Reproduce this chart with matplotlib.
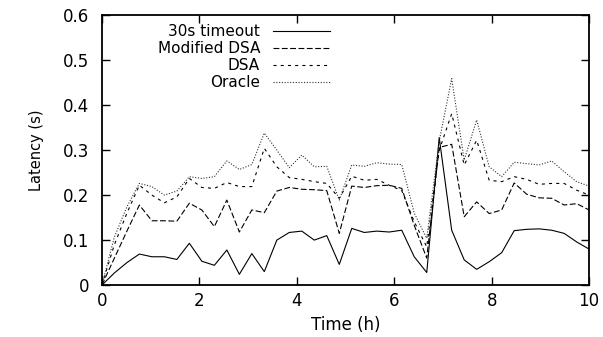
import numpy as np
import matplotlib
matplotlib.use("Agg")
import matplotlib.pyplot as plt

plt.rcParams['font.family'] = ['DejaVu Sans']
plt.rcParams['lines.scale_dashes'] = False

time_h = [0.000, 0.256, 0.513, 0.769, 1.026, 1.282, 1.538, 1.795, 2.051, 2.308,
          2.564, 2.821, 3.077, 3.333, 3.590, 3.846, 4.103, 4.359, 4.615, 4.872,
          5.128, 5.385, 5.641, 5.897, 6.154, 6.410, 6.667, 6.923, 7.179, 7.436,
          7.692, 7.949, 8.205, 8.462, 8.718, 8.974, 9.231, 9.487, 9.744, 10.000]

timeout_30s = [0.000, 0.027, 0.050, 0.069, 0.063, 0.063, 0.057, 0.093, 0.053, 0.044,
               0.078, 0.024, 0.070, 0.030, 0.100, 0.117, 0.120, 0.100, 0.110, 0.046,
               0.126, 0.117, 0.120, 0.118, 0.122, 0.063, 0.028, 0.328, 0.122, 0.056,
               0.035, 0.052, 0.072, 0.121, 0.124, 0.125, 0.122, 0.115, 0.096, 0.080]

modified_dsa = [0.000, 0.060, 0.120, 0.178, 0.143, 0.143, 0.142, 0.182, 0.167, 0.130,
                0.189, 0.118, 0.167, 0.161, 0.209, 0.217, 0.213, 0.212, 0.210, 0.115,
                0.220, 0.217, 0.221, 0.222, 0.215, 0.133, 0.060, 0.306, 0.313, 0.152,
                0.185, 0.159, 0.167, 0.227, 0.202, 0.194, 0.193, 0.178, 0.181, 0.167]

dsa = [0.000, 0.090, 0.160, 0.222, 0.200, 0.183, 0.196, 0.237, 0.217, 0.215,
       0.228, 0.219, 0.219, 0.304, 0.263, 0.239, 0.235, 0.230, 0.226, 0.193,
       0.242, 0.233, 0.235, 0.222, 0.210, 0.141, 0.085, 0.300, 0.381, 0.267,
       0.322, 0.233, 0.230, 0.241, 0.235, 0.224, 0.226, 0.226, 0.211, 0.200]

oracle = [0.000, 0.107, 0.174, 0.226, 0.219, 0.200, 0.209, 0.241, 0.237, 0.241,
          0.276, 0.257, 0.268, 0.338, 0.300, 0.261, 0.289, 0.263, 0.264, 0.189,
          0.267, 0.264, 0.272, 0.269, 0.268, 0.160, 0.104, 0.320, 0.459, 0.278,
          0.367, 0.263, 0.241, 0.273, 0.270, 0.267, 0.276, 0.252, 0.230, 0.220]

labels = ["30s timeout", "Modified DSA", "DSA", "Oracle"]
x_ticks = [0, 2, 4, 6, 8, 10]
y_ticks = [0, 0.1, 0.2, 0.3, 0.4, 0.5, 0.6]
y_ticklabels = ["0", "0.1", "0.2", "0.3", "0.4", "0.5", "0.6"]

fig = plt.figure(figsize=(6.03, 3.37), dpi=100)
ax = fig.add_axes([0.169, 0.154, 0.808, 0.801])

lw = 0.8
ax.plot(time_h, timeout_30s, color='black', lw=lw, linestyle='-', label=labels[0])
ax.plot(time_h, modified_dsa, color='black', lw=lw, linestyle=(0, (4.2, 1.8)), label=labels[1])
ax.plot(time_h, dsa, color='black', lw=lw, linestyle=(0, (2.2, 3.0)), label=labels[2])
ax.plot(time_h, oracle, color='#333333', lw=lw, linestyle=(0, (0.8, 1.2)), label=labels[3])

ax.set_xlim(0, 10)
ax.set_ylim(0, 0.6)
ax.set_xticks(x_ticks)
ax.set_xticklabels([str(t) for t in x_ticks])
ax.set_yticks(y_ticks)
ax.set_yticklabels(y_ticklabels)
ax.tick_params(direction='in', length=6, width=1.0, top=True, right=True,
               labelsize=12, colors='black')
ax.tick_params(axis='y', pad=9)
ax.tick_params(axis='x', pad=5)
for s in ax.spines.values():
    s.set_linewidth(1.3)

ax.set_xlabel("Time (h)", fontsize=12)
ax.set_ylabel("Latency (s)", fontsize=10.5)
ax.xaxis.set_label_coords(0.5, -0.115)
ax.yaxis.set_label_coords(-0.119, 0.5)

leg = ax.legend(loc='upper right', bbox_to_anchor=(0.468, 0.967), frameon=False,
                markerfirst=False, alignment='right', fontsize=11,
                handlelength=3.73, handletextpad=0.85, labelspacing=0.13,
                borderpad=0, borderaxespad=0)

fig.savefig("out.png", dpi=100)
